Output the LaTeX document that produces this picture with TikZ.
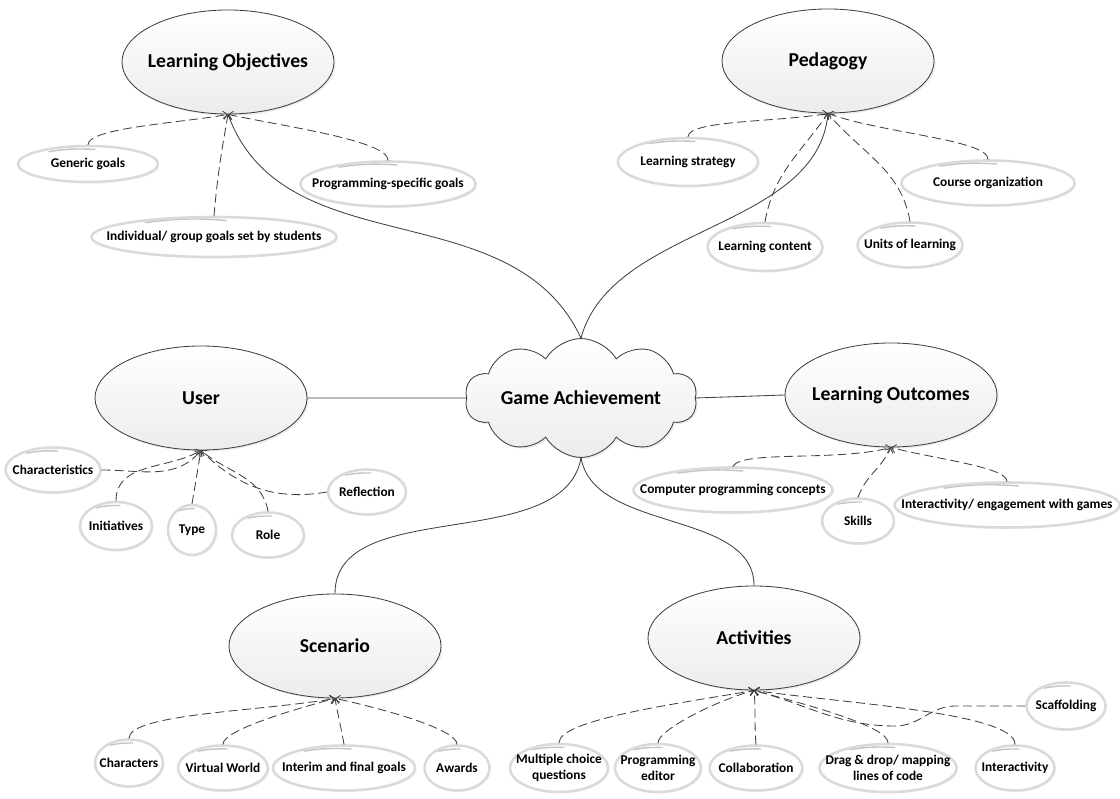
\documentclass[tikz,border=0pt]{standalone}
\usepackage{fontspec}
\setmainfont{Carlito}
\usepackage{tikz}
\usetikzlibrary{arrows.meta,calc,shapes.geometric,shapes.symbols,shadows}
\definecolor{wire}{HTML}{404040}
\definecolor{rim}{HTML}{DADADA}
\definecolor{gloss}{HTML}{C4C4C4}
\definecolor{softgrey}{HTML}{ECECEC}
\tikzset{
    every picture/.style={line cap=round,line join=round},
    hub/.style={cloud,cloud puffs=10,cloud puff arc=120,aspect=2.2,
      draw=wire,line width=0.6pt,top color=white,bottom color=softgrey,
      minimum width=5.8cm,minimum height=2.7cm,inner sep=-8pt,
      font=\fontsize{14}{16}\selectfont\bfseries,
      drop shadow={opacity=0.15,shadow xshift=1.2pt,shadow yshift=-1.2pt}},
    topic/.style={ellipse,draw=wire,line width=0.6pt,top color=white,bottom color=softgrey,
      minimum width=5.3cm,minimum height=2.6cm,inner xsep=-12pt,inner ysep=0pt,
      font=\fontsize{14}{16}\selectfont\bfseries,
      drop shadow={opacity=0.15,shadow xshift=1.2pt,shadow yshift=-1.2pt}},
    leaf/.style={ellipse,draw=rim,line width=1.8pt,fill=white,
      inner xsep=-20pt,inner ysep=-2pt,align=center,
      font=\fontsize{9.5}{11}\selectfont\bfseries,
      drop shadow={opacity=0.12,shadow xshift=1pt,shadow yshift=-1pt},
      path picture={\draw[gloss,line width=1pt]
        ($(path picture bounding box.north west)!0.22!(path picture bounding box.north east)+(0,-4pt)$)
        to[bend left=6]
        ($(path picture bounding box.north west)!0.55!(path picture bounding box.north east)+(0,-2.5pt)$);}},
    mainlink/.style={draw=wire,line width=0.6pt},
    sublink/.style={draw=wire,line width=0.6pt,dash pattern=on 6pt off 3.5pt,
      -{Straight Barb[length=3pt,width=6pt]}},
    lowrun/.style={out looseness=0.3,in looseness=0.9}
}

\begin{document}
\begin{tikzpicture}[x=0.025cm,y=0.025cm]
  \useasboundingbox (0,0) rectangle (1120,-799);
  % centre and topics
  \node[hub] (ga) at (581,-398) {Game Achievement};
  \node[topic] (obj) at (228,-62) {Learning Objectives};
  \node[topic] (ped) at (828,-61) {Pedagogy};
  \node[topic] (usr) at (201,-398) {User};
  \node[topic] (out) at (891,-395) {Learning Outcomes};
  \node[topic] (scn) at (335,-646) {Scenario};
  \node[topic] (act) at (754,-638) {Activities};

  \draw[mainlink] (obj.south) to[out=-70,in=115] (ga.north);
  \draw[mainlink] (ped.south) to[out=-95,in=75,looseness=0.9] (ga.north);
  \draw[mainlink] (usr.east) -- (ga.west);
  \draw[mainlink] (ga.east) -- (out.west);
  \draw[mainlink] (ga.south) to[out=-100,in=90,looseness=0.9] (scn.north);
  \draw[mainlink] (ga.south) to[out=-80,in=90,looseness=0.9] (act.north);

  % learning objectives
  \node[leaf,minimum width=3.5cm,minimum height=0.9cm] (o1) at (88,-164) {Generic goals};
  \node[leaf,minimum width=6.125cm,minimum height=1cm] (o2) at (214,-237) {Individual/ group goals set by students};
  \node[leaf,minimum width=4.375cm,minimum height=1.125cm] (o3) at (388,-184) {Programming-specific goals};
  \draw[sublink,lowrun] (o1.north) to[out=90,in=190] (obj.south);
  \draw[sublink] (o2.north) to[out=85,in=-100] (obj.south);
  \draw[sublink,lowrun] (o3.north) to[out=90,in=-12] (obj.south);

  % pedagogy
  \node[leaf,minimum width=3.5cm,minimum height=1.2cm] (p1) at (688,-162) {Learning strategy};
  \node[leaf,minimum width=2.875cm,minimum height=1.2cm] (p2) at (765,-247) {Learning content};
  \node[leaf,minimum width=2.625cm,minimum height=1.125cm] (p3) at (910,-245) {Units of learning};
  \node[leaf,minimum width=4.325cm,minimum height=1.125cm] (p4) at (988,-183) {Course organization};
  \draw[sublink,lowrun] (p1.north) to[out=90,in=190] (ped.south);
  \draw[sublink] (p2.north) to[out=80,in=-125] (ped.south);
  \draw[sublink] (p3.north) to[out=100,in=-50] (ped.south);
  \draw[sublink,lowrun] (p4.north) to[out=90,in=-20] (ped.south);

  % user
  \node[leaf,minimum width=2.375cm,minimum height=1.125cm] (u1) at (53,-470) {Characteristics};
  \node[leaf,minimum width=1.8cm,minimum height=1.2cm] (u2) at (116,-526) {Initiatives};
  \node[leaf,minimum width=1.2cm,minimum height=1.25cm] (u3) at (192,-530) {Type};
  \node[leaf,minimum width=1.8cm,minimum height=1.125cm] (u4) at (268,-535) {Role};
  \node[leaf,minimum width=1.95cm,minimum height=1.125cm] (u5) at (367,-492) {Reflection};
  \draw[sublink] (u1.east) to[out=0,in=-130] (usr.south);
  \draw[sublink] (u2.north) to[out=90,in=-150] (usr.south);
  \draw[sublink] (u3.north) to[out=80,in=-100] (usr.south);
  \draw[sublink] (u4.north) to[out=100,in=-40] (usr.south);
  \draw[sublink] (u5.west) to[out=190,in=-45] (usr.south);

  % learning outcomes
  \node[leaf,minimum width=4.975cm,minimum height=1.125cm] (c1) at (733,-490) {Computer programming concepts};
  \node[leaf,minimum width=1.8cm,minimum height=1.125cm] (c2) at (858,-521) {Skills};
  \node[leaf,minimum width=5.625cm,minimum height=1.125cm] (c3) at (1007,-505) {Interactivity/ engagement with games};
  \draw[sublink,lowrun] (c1.north) to[out=60,in=195] (out.south);
  \draw[sublink] (c2.north) to[out=70,in=-115] (out.south);
  \draw[sublink,lowrun] (c3.north) to[out=90,in=-15] (out.south);

  % scenario
  \node[leaf,minimum width=1.7cm,minimum height=1.175cm] (s1) at (129,-763) {Characters};
  \node[leaf,minimum width=2.25cm,minimum height=1.125cm] (s2) at (223,-768) {Virtual World};
  \node[leaf,minimum width=3.55cm,minimum height=1.125cm] (s3) at (344,-768) {Interim and final goals};
  \node[leaf,minimum width=1.625cm,minimum height=1.125cm] (s4) at (457,-768) {Awards};
  \draw[sublink,lowrun] (s1.north) to[out=90,in=190] (scn.south);
  \draw[sublink,lowrun] (s2.north) to[out=90,in=195] (scn.south);
  \draw[sublink] (s3.north) to[out=100,in=-80] (scn.south);
  \draw[sublink,lowrun] (s4.north) to[out=90,in=-12] (scn.south);

  % activities
  \node[leaf,minimum width=2.45cm,minimum height=1.2cm] (a1) at (559,-768) {Multiple choice\\questions};
  \node[leaf,minimum width=2.15cm,minimum height=1.2cm] (a2) at (658,-768) {Programming\\editor};
  \node[leaf,minimum width=2.325cm,minimum height=1.125cm] (a3) at (756,-768) {Collaboration};
  \node[leaf,minimum width=3.425cm,minimum height=1.2cm] (a4) at (888,-768) {Drag \& drop/ mapping\\lines of code};
  \node[leaf,minimum width=1.975cm,minimum height=1.125cm] (a5) at (1015,-768) {Interactivity};
  \node[leaf,minimum width=1.975cm,minimum height=1.175cm] (a6) at (1066,-706) {Scaffolding};
  \draw[sublink,lowrun] (a1.north) to[out=90,in=190] (act.south);
  \draw[sublink,lowrun] (a2.north) to[out=90,in=195] (act.south);
  \draw[sublink] (a3.north) to[out=95,in=-85] (act.south);
  \draw[sublink,lowrun] (a4.north) to[out=90,in=-15] (act.south);
  \draw[sublink,lowrun] (a5.north) to[out=90,in=-8] (act.south);
  \draw[sublink] (a6.west) -- ++(-70,0) to[out=180,in=0] ++(-60,-20)
    to[out=180,in=-15] (act.south);
\end{tikzpicture}
\end{document}
